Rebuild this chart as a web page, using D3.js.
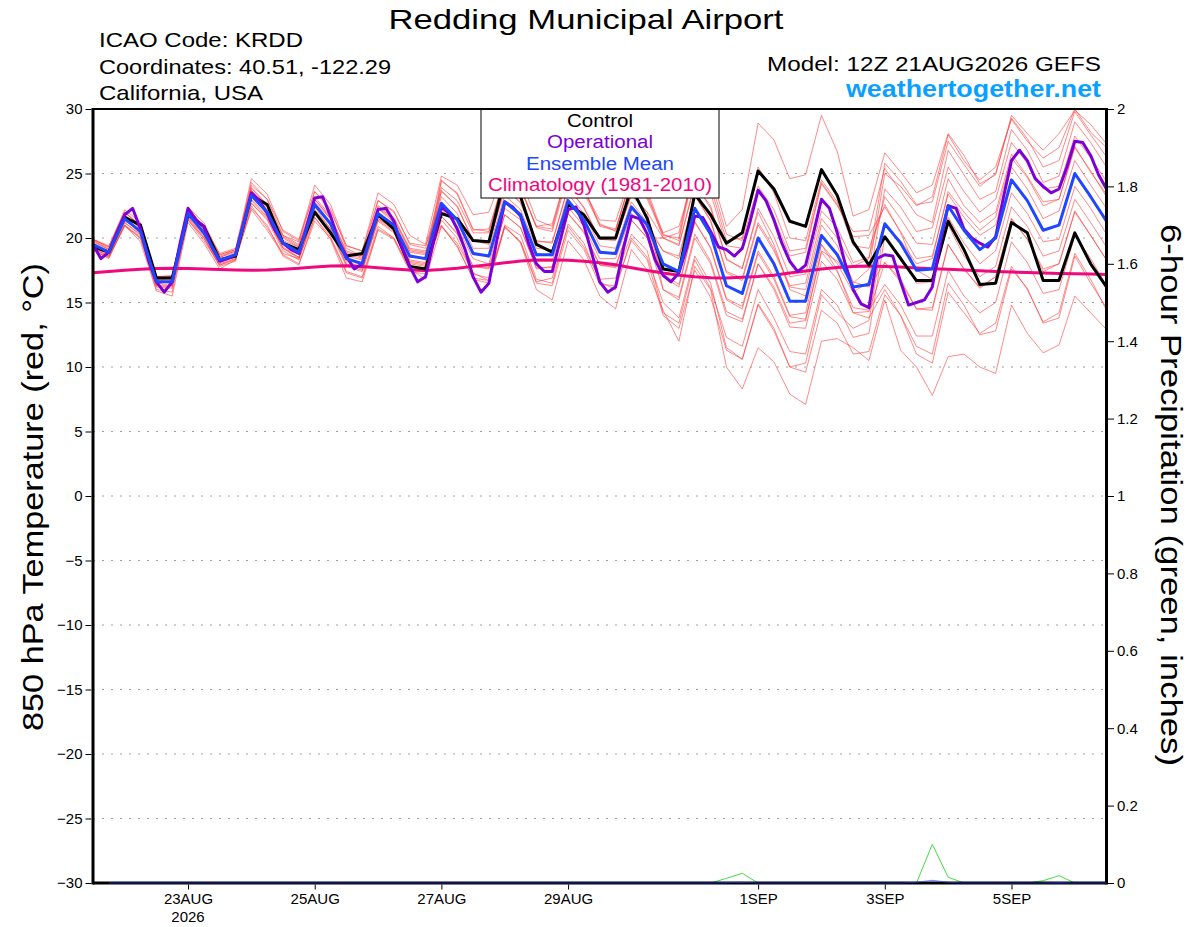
<!DOCTYPE html>
<html lang="en">
<head>
<meta charset="UTF-8">
<title>Redding Municipal Airport - GEFS 850 hPa Temperature</title>
<script src="https://d3js.org/d3.v7.min.js"></script>
<style>
  body { margin: 0; background: #fff; }
  svg { display: block; font-family: "Liberation Sans", Arial, Helvetica, sans-serif; }
</style>
</head>
<body>
<script>
// model run, 6-hourly steps (operational GFS is 3-hourly)
const runStart = "2026-08-21T12:00Z";

const tempTicks = [-30, -25, -20, -15, -10, -5, 0, 5, 10, 15, 20, 25, 30];
const precipTicks = [0, 0.2, 0.4, 0.6, 0.8, 1, 1.2, 1.4, 1.6, 1.8, 2];
const dateTicks = ["2026-08-23", "2026-08-25", "2026-08-27", "2026-08-29", "2026-09-01", "2026-09-03", "2026-09-05"];
const dateLabels = ["23AUG", "25AUG", "27AUG", "29AUG", "1SEP", "3SEP", "5SEP"];

// 850 hPa temperature (C), 6-hourly, 65 steps
const control = [19.3,18.9,21.6,21.0,16.9,16.9,21.8,20.9,18.3,18.6,
  23.3,22.6,19.6,19.1,22.0,20.4,18.6,18.8,21.8,20.7,
  17.8,17.6,21.9,21.5,19.8,19.7,24.6,23.2,19.5,18.9,
  22.6,21.8,20.0,20.0,23.9,21.5,17.6,17.4,23.4,21.8,
  19.6,20.4,25.2,23.8,21.3,20.9,25.3,23.3,19.7,17.9,
  20.1,18.4,16.7,16.7,21.3,19.1,16.4,16.5,21.2,20.4,
  16.7,16.7,20.4,18.0,16.2];

const ensembleMean = [19.5,18.9,21.5,20.5,16.6,16.6,21.9,20.4,18.3,18.7,
  23.3,22.0,19.6,18.9,22.6,21.1,18.4,18.0,21.9,21.0,
  18.6,18.4,22.7,21.4,18.8,18.6,22.8,21.8,18.7,18.7,
  22.9,21.4,18.9,18.8,22.4,21.0,18.0,17.4,22.3,20.3,
  16.3,15.7,20.0,18.0,15.1,15.1,20.2,18.7,16.2,16.4,
  21.1,19.6,17.5,17.6,22.5,20.6,19.1,20.0,24.5,22.9,
  20.6,21.0,25.0,23.2,21.3];

const climatology = [17.30,17.40,17.50,17.58,17.63,17.65,17.63,17.60,17.55,17.52,
  17.50,17.52,17.58,17.65,17.75,17.82,17.85,17.80,17.70,17.60,
  17.52,17.48,17.55,17.65,17.80,17.92,18.08,18.22,18.30,18.30,
  18.27,18.20,18.08,17.92,17.70,17.48,17.28,17.12,17.00,16.92,
  16.90,16.95,17.02,17.12,17.28,17.45,17.60,17.72,17.80,17.82,
  17.80,17.75,17.68,17.62,17.58,17.52,17.46,17.40,17.36,17.32,
  17.28,17.25,17.22,17.20,17.18];

// operational, 3-hourly, 129 steps
const operational = [19.5,18.4,18.9,20.4,21.8,22.3,20.7,18.3,16.6,15.8,
  16.6,19.6,22.3,21.4,20.9,19.3,18.2,18.4,18.7,21.1,
  23.5,22.9,21.9,20.6,19.6,19.1,18.8,20.9,23.1,23.2,
  21.7,19.8,18.6,17.6,18.0,20.1,22.2,22.3,21.3,19.3,
  17.8,16.6,17.0,19.7,22.4,21.9,20.7,19.1,17.0,15.8,
  16.5,19.8,22.8,22.4,21.7,19.6,18.0,17.4,17.4,19.8,
  22.2,22.4,21.0,18.8,16.6,15.8,16.2,19.2,21.7,21.5,
  20.3,18.3,17.1,16.6,17.3,19.3,21.7,21.6,20.5,19.3,
  19.1,18.6,19.2,21.3,23.7,22.9,21.4,19.6,18.2,17.4,
  17.9,20.4,23.0,22.3,20.4,18.0,16.0,14.9,14.6,18.4,
  18.7,18.6,16.6,14.8,15.0,15.2,16.2,19.6,22.5,22.3,
  20.7,20.0,19.6,19.3,20.1,23.2,26.0,26.8,26.0,24.6,
  24.0,23.5,23.8,25.5,27.5,27.4,26.4,24.9,23.8];

// ensemble members
const member01 = [19.8,19.1,22.0,20.9,16.9,16.8,22.3,20.9,18.5,19.0,
  24.1,23.0,20.2,19.7,23.6,22.3,19.2,18.6,22.9,22.1,19.5,19.2,
  23.9,22.9,20.4,20.4,24.8,23.8,20.9,20.7,25.2,23.9,20.9,20.6,24.8,23.5,
  20.0,20.4,25.8,25.1,20.9,22.2,28.9,27.6,24.6,24.9,29.5,26.7,21.7,22.2,
  26.6,25.1,23.5,24.1,28.1,26.4,24.2,24.9,29.5,28.1,26.8,28.1,29.9,28.8,27.3];
const member02 = [19.2,18.6,20.9,20.0,16.0,15.8,21.4,19.8,17.9,18.4,
  22.5,20.8,18.8,18.4,21.6,19.9,16.9,16.6,20.7,20.0,17.6,16.8,
  20.9,19.6,17.3,16.7,20.9,19.6,16.0,15.2,19.8,18.3,15.5,14.5,19.1,17.5,
  14.4,12.0,17.8,16.0,10.0,8.3,11.5,10.4,7.9,7.1,12.0,12.2,11.5,10.5,
  15.2,11.3,10.0,7.8,10.8,11.0,10.0,9.5,14.8,12.6,11.1,11.7,15.5,14.2,12.9];
const member03 = [19.9,19.3,22.2,21.2,17.0,17.0,22.4,21.2,18.7,19.1,
  24.6,23.4,20.5,19.8,24.1,22.6,19.4,19.0,23.5,22.6,20.2,19.5,
  24.8,24.1,21.8,22.0,25.3,24.6,21.4,20.9,25.4,23.8,21.1,20.5,24.8,23.2,
  20.4,20.9,24.8,23.5,19.4,19.2,23.8,21.6,18.6,18.9,24.2,22.5,20.5,20.6,
  25.4,23.6,21.8,21.2,26.8,24.9,23.0,23.6,28.4,26.8,24.3,24.8,29.0,27.4,25.5];
const member04 = [19.0,18.5,21.0,19.7,15.9,15.5,21.2,19.6,17.6,18.3,
  22.2,20.6,18.7,18.0,21.3,20.0,17.3,16.9,20.6,19.9,17.4,17.2,
  21.4,20.0,17.2,16.9,21.0,20.2,16.8,16.5,21.1,19.6,16.6,16.0,20.0,18.5,
  15.0,13.8,18.6,16.5,11.5,10.6,14.9,13.0,10.0,9.6,14.4,13.4,11.0,11.2,
  15.6,14.0,11.6,11.0,16.5,14.8,12.5,12.8,17.6,16.1,13.4,13.8,18.6,16.5,14.6];
const member05 = [19.6,18.8,21.7,20.3,16.8,16.5,22.1,20.3,18.4,18.6,
  23.7,22.2,19.8,19.3,22.8,21.5,18.6,18.3,22.3,21.2,18.9,18.7,
  23.6,22.5,19.8,19.5,23.9,22.7,19.8,19.6,24.0,22.3,19.9,19.9,23.3,22.0,
  20.0,19.5,24.1,22.5,18.4,17.6,22.3,20.1,17.0,17.2,22.1,20.8,18.1,18.5,
  23.2,21.5,19.6,19.5,24.6,22.5,21.2,22.0,26.5,24.8,22.8,23.0,27.1,25.1,23.4];
const member06 = [19.4,19.0,21.3,20.7,16.4,16.7,21.7,20.5,18.2,18.8,
  23.0,21.7,19.3,18.5,22.4,20.7,18.2,17.7,21.5,20.8,18.3,18.1,
  21.7,20.3,17.8,17.7,21.8,20.8,17.6,17.8,21.9,20.5,17.9,17.7,21.4,20.0,
  16.0,15.4,20.3,18.2,14.3,13.7,18.0,16.0,13.1,13.0,18.2,16.8,14.2,14.3,
  18.1,16.6,14.5,14.6,19.5,17.6,16.1,17.0,21.5,19.9,17.6,18.0,22.0,20.2,18.3];
const member07 = [19.7,19.1,21.8,20.7,16.7,16.9,22.1,20.6,18.5,18.9,
  23.9,22.4,20.1,19.4,23.0,21.6,18.9,18.5,22.4,21.5,19.1,18.9,
  23.2,21.9,19.2,19.2,23.3,22.2,19.2,19.1,23.4,21.9,19.4,19.2,22.8,21.2,
  17.2,16.4,21.2,19.3,15.3,14.7,19.0,17.0,14.0,14.2,19.5,18.0,15.8,16.6,
  23.8,22.4,20.5,20.8,25.5,23.6,22.0,23.0,27.4,25.8,23.8,24.0,27.9,26.2,24.4];
const member08 = [19.3,18.7,21.2,20.3,16.5,16.3,21.7,20.2,18.1,18.5,
  22.7,21.5,19.2,18.4,22.0,20.6,17.9,17.5,21.4,20.5,18.1,17.9,
  22.2,20.9,18.4,18.0,22.3,21.4,18.2,18.2,22.4,20.9,18.4,18.4,21.9,20.8,
  19.0,18.4,23.3,21.3,17.3,16.7,21.0,19.0,16.2,16.0,21.0,19.4,16.6,16.2,
  18.1,16.8,14.5,14.4,19.5,17.6,16.2,17.0,21.5,19.9,17.4,18.0,22.1,20.2,18.3];
const member09 = [19.9,19.4,22.0,21.0,17.0,17.1,22.4,20.8,18.8,19.2,
  23.4,22.1,19.5,19.0,22.5,21.2,18.3,18.1,21.9,21.1,18.5,18.5,
  24.5,23.4,20.6,20.7,24.8,23.9,20.8,20.5,24.9,23.5,21.0,20.7,24.5,23.0,
  20.2,20.0,26.0,24.5,20.3,19.8,24.0,22.2,19.0,19.2,24.3,22.6,20.1,20.2,
  22.4,20.5,18.4,18.6,23.4,21.6,20.2,21.0,25.5,23.8,21.5,22.1,26.0,24.1,22.3];
const member10 = [19.1,18.4,21.0,20.0,16.2,16.1,21.4,20.0,17.8,18.2,
  23.2,21.9,19.7,18.8,22.7,21.0,18.5,17.9,21.9,20.9,18.7,18.3,
  20.9,19.4,16.8,16.5,20.8,19.7,16.6,16.9,20.9,19.3,16.8,16.9,20.3,19.0,
  14.2,13.4,18.3,16.1,12.3,11.6,16.0,13.8,11.2,11.0,16.0,14.8,12.3,12.6,
  20.1,18.6,16.5,16.6,21.6,19.6,18.0,19.0,23.5,21.9,19.7,19.9,24.0,22.3,20.3];
const member11 = [19.8,19.2,21.8,20.8,16.9,16.9,22.2,20.7,18.6,19.0,
  24.3,23.0,20.6,19.9,23.6,22.1,19.4,19.0,22.9,22.0,19.6,19.4,
  22.7,21.5,18.9,18.5,22.9,21.7,18.8,18.6,23.0,21.3,19.0,18.7,22.5,21.1,
  19.0,18.6,23.3,21.4,17.4,16.9,21.2,19.2,16.3,16.5,21.5,20.0,17.8,18.4,
  25.8,24.4,22.6,22.8,27.5,25.7,24.0,25.0,29.3,27.7,25.5,26.0,29.8,28.0,26.3];
const member12 = [19.2,18.6,21.2,20.2,16.3,16.3,21.6,20.1,18.0,18.4,
  22.3,21.0,18.6,17.9,21.6,20.1,17.4,17.0,20.9,20.0,17.6,17.4,
  22.7,21.3,18.7,18.7,22.7,21.9,18.6,18.8,22.8,21.5,18.8,18.9,22.3,20.9,
  17.0,16.2,21.3,19.2,15.2,14.5,18.8,16.8,13.9,13.7,18.9,17.4,14.6,14.4,
  16.4,14.8,12.4,12.4,17.5,15.5,14.2,15.0,19.7,18.1,15.7,16.0,20.2,18.4,16.3];
const member13 = [19.5,19.0,21.6,20.4,16.6,16.7,21.9,20.5,18.3,18.6,
  23.9,22.6,20.2,19.5,23.2,21.7,19.0,18.6,22.5,21.6,19.2,19.0,
  21.0,19.3,16.9,16.7,20.9,19.7,16.5,16.3,20.6,19.1,16.4,16.3,19.8,18.3,
  14.0,13.0,17.5,15.4,11.3,10.6,14.8,12.8,10.0,10.3,15.6,14.2,13.0,13.6,
  21.0,19.8,18.0,18.4,23.6,22.0,20.6,21.6,26.2,24.7,22.5,23.0,27.0,25.2,23.2];
const member14 = [19.5,18.8,21.4,20.6,16.6,16.5,21.9,20.3,18.3,18.8,
  22.7,21.4,19.0,18.3,22.0,20.5,17.8,17.4,21.3,20.4,18.0,17.8,
  24.4,23.5,20.7,20.5,24.7,23.9,20.9,21.1,25.2,23.7,21.4,21.3,25.0,23.7,
  20.3,19.8,25.5,24.0,19.8,20.0,25.5,23.5,20.0,19.8,24.5,22.8,19.4,19.2,
  22.6,20.4,17.5,16.8,21.0,18.6,17.0,17.8,22.4,20.9,18.6,19.0,23.0,21.2,19.3];
const member15 = [19.9,19.3,22.0,20.9,16.9,17.0,22.3,20.8,18.7,19.1,
  22.9,21.6,19.2,18.5,22.2,20.7,18.0,17.6,21.5,20.6,18.2,18.0,
  23.7,22.4,19.8,19.6,23.8,22.8,19.7,19.7,23.9,22.4,19.9,19.8,23.4,22.0,
  16.0,15.2,20.0,18.0,14.0,13.5,18.0,16.2,13.4,13.6,19.0,18.2,16.5,17.6,
  25.0,24.0,22.5,23.2,28.0,26.0,24.5,25.5,29.2,27.5,26.2,27.0,30.0,28.2,27.0];
const member16 = [19.1,18.5,21.0,20.1,16.3,16.2,21.5,20.0,17.9,18.3,
  23.7,22.4,20.0,19.3,23.0,21.5,18.8,18.4,22.3,21.4,19.0,18.8,
  21.7,20.4,17.8,17.6,21.8,20.8,17.7,17.7,21.9,20.4,17.9,17.8,21.4,20.0,
  20.0,19.4,24.3,22.3,18.3,17.7,22.0,19.5,16.0,15.5,19.5,17.5,14.2,13.8,
  16.0,14.0,11.0,10.3,15.8,14.2,12.6,13.4,17.8,16.0,13.5,14.2,18.8,16.8,14.4];

const members = [member01, member02, member03, member04, member05, member06, member07, member08,
  member09, member10, member11, member12, member13, member14, member15, member16];

// 6-hour precipitation (inches), no value at analysis time
const memberPrecip = [null,0,0,0,0,0,0,0,0,0,
  0,0,0,0,0,0,0,0,0,0,
  0,0,0,0,0,0,0,0,0,0,
  0,0,0,0,0,0,0,0,0,0,
  0.012,0.025,0,0,0,0,0,0,0,0,
  0,0,0,0.10,0.015,0,0,0,0,0,
  0.006,0.019,0,0,0];
const meanPrecip = [null,0,0,0,0,0,0,0,0,0,
  0,0,0,0,0,0,0,0,0,0,
  0,0,0,0,0,0,0,0,0,0,
  0,0,0,0,0,0,0,0,0,0,
  0.001,0.002,0,0,0,0,0,0,0,0,
  0,0,0.002,0.007,0.002,0,0,0,0,0,
  0,0.001,0,0,0];

const W = 1200, H = 927;
const X0 = 93, X1 = 1106.5, Y0 = 109, Y1 = 883;

const t0 = d3.utcParse("%Y-%m-%dT%H:%MZ")(runStart);
const timeAt = h => new Date(t0.getTime() + h * 3600e3);

const x = d3.scaleUtc().domain([t0, timeAt(64 * 6)]).range([X0, X1]);
const y = d3.scaleLinear().domain([-30, 30]).range([Y1, Y0]);
const yP = d3.scaleLinear().domain([0, 2]).range([Y1, Y0]);

const svg = d3.select("body").append("svg")
    .attr("width", W)
    .attr("height", H);

svg.append("defs").append("clipPath")
    .attr("id", "plot-clip")
  .append("rect")
    .attr("x", X0).attr("y", Y0)
    .attr("width", X1 - X0).attr("height", Y1 - Y0);

// dotted grid
svg.append("g")
  .selectAll("line")
  .data(tempTicks.filter(d => d > -30 && d < 30))
  .join("line")
    .attr("x1", X0).attr("x2", X1)
    .attr("y1", d => y(d)).attr("y2", d => y(d))
    .attr("stroke", "#a0a0a0")
    .attr("stroke-dasharray", "2,7");

const line6 = scale => d3.line()
    .defined(d => d != null)
    .x((d, i) => x(timeAt(i * 6)))
    .y(d => scale(d));
const line3 = d3.line()
    .x((d, i) => x(timeAt(i * 3)))
    .y(d => y(d));

const plot = svg.append("g").attr("clip-path", "url(#plot-clip)");

plot.append("g")
  .selectAll("path")
  .data(members)
  .join("path")
    .attr("d", line6(y))
    .attr("fill", "none")
    .attr("stroke", "#ff3b3b")
    .attr("stroke-opacity", 0.75)
    .attr("stroke-width", 0.8);

plot.append("path").datum(climatology)
    .attr("d", line6(y))
    .attr("fill", "none").attr("stroke", "#f0087f").attr("stroke-width", 3);

plot.append("path").datum(control)
    .attr("d", line6(y))
    .attr("fill", "none").attr("stroke", "#000").attr("stroke-width", 3)
    .attr("stroke-linejoin", "round");

plot.append("path").datum(operational)
    .attr("d", line3)
    .attr("fill", "none").attr("stroke", "#7d00d8").attr("stroke-width", 3)
    .attr("stroke-linejoin", "round");

plot.append("path").datum(ensembleMean)
    .attr("d", line6(y))
    .attr("fill", "none").attr("stroke", "#2146ff").attr("stroke-width", 3)
    .attr("stroke-linejoin", "round");

// precipitation
svg.append("path").datum(memberPrecip)
    .attr("d", line6(yP))
    .attr("fill", "none").attr("stroke", "#44dd44").attr("stroke-width", 1);

// legend (the chart's lettering is wider than Arial, so widths are fixed)
const legend = svg.append("g");
legend.append("rect")
    .attr("x", 481).attr("y", Y0)
    .attr("width", 238).attr("height", 89)
    .attr("fill", "#fff").attr("stroke", "#000").attr("stroke-width", 1);
const legendItems = [
  ["Control", "#000", 66],
  ["Operational", "#7d00d8", 106],
  ["Ensemble Mean", "#2146ff", 148],
  ["Climatology (1981-2010)", "#f0087f", 224]
];
legend.selectAll("text")
  .data(legendItems)
  .join("text")
    .attr("x", 600)
    .attr("y", (d, i) => [127, 148, 169.5, 191][i])
    .attr("text-anchor", "middle")
    .attr("font-size", 18)
    .attr("textLength", d => d[2])
    .attr("lengthAdjust", "spacingAndGlyphs")
    .attr("fill", d => d[1])
    .text(d => d[0]);

// frame
const frame = svg.append("g").attr("stroke", "#000").attr("fill", "none");
frame.append("line").attr("x1", X0).attr("x2", X1).attr("y1", Y0).attr("y2", Y0).attr("stroke-width", 2);
frame.append("line").attr("x1", X0).attr("x2", X1).attr("y1", Y1).attr("y2", Y1).attr("stroke-width", 3);
frame.append("line").attr("x1", X0).attr("x2", X0).attr("y1", Y0 - 1).attr("y2", Y1 + 1.5).attr("stroke-width", 3);
frame.append("line").attr("x1", X1).attr("x2", X1).attr("y1", Y0 - 1).attr("y2", Y1 + 1.5).attr("stroke-width", 3);

svg.append("path").datum(meanPrecip)
    .attr("d", line6(yP))
    .attr("fill", "none").attr("stroke", "#2146ff").attr("stroke-opacity", 0.6).attr("stroke-width", 1.2);

// axes
const styleAxis = g => {
  g.select(".domain").remove();
  g.attr("font-family", null).attr("font-size", 15);
  g.selectAll(".tick line").attr("stroke", "#000");
  g.selectAll(".tick text").attr("fill", "#000");
};

svg.append("g")
    .attr("transform", `translate(${X0 - 1.5},0)`)
    .call(d3.axisLeft(y).tickValues(tempTicks).tickSize(6).tickPadding(3))
    .call(styleAxis);

svg.append("g")
    .attr("transform", `translate(${X1 + 1.5},0)`)
    .call(d3.axisRight(yP).tickValues(precipTicks).tickSize(6).tickPadding(3)
      .tickFormat(d => String(+d.toFixed(1))))
    .call(styleAxis);

const xAxis = svg.append("g")
    .attr("transform", `translate(0,${Y1 + 1.5})`)
    .call(d3.axisBottom(x)
      .tickValues(dateTicks.map(d => d3.utcParse("%Y-%m-%d")(d)))
      .tickSize(5).tickPadding(4)
      .tickFormat((d, i) => dateLabels[i]))
    .call(styleAxis);

xAxis.append("text")
    .attr("x", x(d3.utcParse("%Y-%m-%d")(dateTicks[0])))
    .attr("y", 37)
    .attr("text-anchor", "middle")
    .attr("fill", "#000")
    .text("2026");

// titles
const wideText = (sel, len) => sel.attr("textLength", len).attr("lengthAdjust", "spacingAndGlyphs");

svg.append("text")
    .attr("x", 586).attr("y", 29)
    .attr("text-anchor", "middle")
    .attr("font-size", 28.5)
    .call(wideText, 395)
    .text("Redding Municipal Airport");

const infoLines = [["ICAO Code: KRDD", 47, 204], ["Coordinates: 40.51, -122.29", 74, 292], ["California, USA", 100, 164]];
svg.append("g")
    .attr("font-size", 21)
  .selectAll("text")
  .data(infoLines)
  .join("text")
    .attr("x", 99)
    .attr("y", d => d[1])
    .attr("textLength", d => d[2])
    .attr("lengthAdjust", "spacingAndGlyphs")
    .text(d => d[0]);

svg.append("text")
    .attr("x", 1101).attr("y", 71)
    .attr("text-anchor", "end")
    .attr("font-size", 20.5)
    .call(wideText, 334)
    .text("Model: 12Z 21AUG2026 GEFS");

svg.append("text")
    .attr("x", 1101).attr("y", 97)
    .attr("text-anchor", "end")
    .attr("font-size", 23.5)
    .attr("font-weight", "bold")
    .attr("fill", "#0aa0ff")
    .call(wideText, 255)
    .text("weathertogether.net");

svg.append("text")
    .attr("transform", `translate(43,497) rotate(-90)`)
    .attr("text-anchor", "middle")
    .attr("font-size", 30)
    .call(wideText, 468)
    .text("850 hPa Temperature (red, \u00B0C)");

svg.append("text")
    .attr("transform", `translate(1161,495) rotate(90)`)
    .attr("text-anchor", "middle")
    .attr("font-size", 30)
    .call(wideText, 542)
    .text("6-hour Precipitation (green, inches)");
</script>
</body>
</html>
